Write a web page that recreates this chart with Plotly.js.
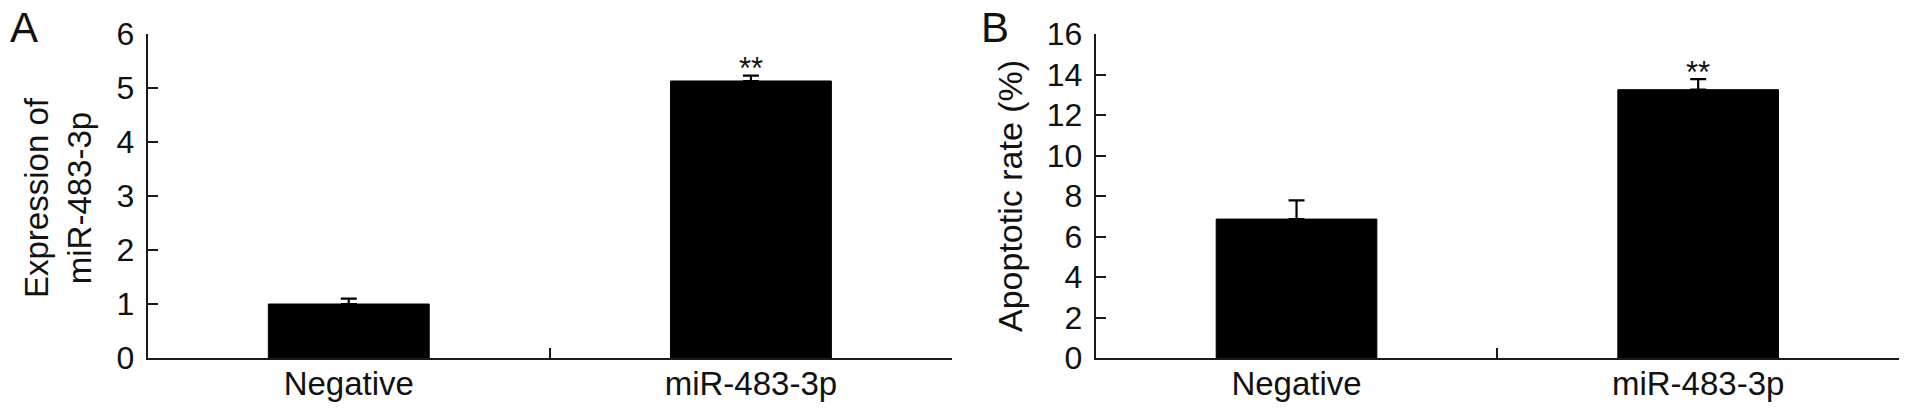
<!DOCTYPE html>
<html>
<head>
<meta charset="utf-8">
<script src="https://cdn.plot.ly/plotly-3.0.1.min.js"></script>
<style>
  html, body { margin: 0; padding: 0; background: #fff; }
  #chart { width: 1913px; height: 412px; }
</style>
</head>
<body>
<div id="chart"></div>
<script>
const groups = ['Negative', 'miR-483-3p'];

// panel A: relative expression
const exprMean = [1.0, 5.13];
const exprErr = [0.10, 0.10];
const exprStars = ['', '**'];

// panel B: apoptotic rate (%)
const apoMean = [6.86, 13.25];
const apoErr = [0.92, 0.52];
const apoStars = ['', '**'];

const FONT = 'Liberation Sans, Arial, Helvetica, sans-serif';
const INK = '#1a1a1a';

function barTrace(means, errs, xa, ya) {
    return {
        type: 'bar',
        x: groups,
        y: means,
        xaxis: xa,
        yaxis: ya,
        width: 0.4,
        marker: { color: '#000', line: { color: '#000', width: 1 } },
        // only the upper whisker shows in the figure
        error_y: {
            type: 'data', array: errs, symmetric: false,
            arrayminus: errs.map(() => 0),
            visible: true, color: '#000', thickness: 2.2, width: 8
        },
        hoverinfo: 'x+y',
        showlegend: false
    };
}

function xAxis(domain, anchor) {
    return {
        domain: domain,
        anchor: anchor,
        type: 'category',
        range: [-0.5, 1.5],
        showline: true,
        linecolor: INK,
        linewidth: 2,
        ticks: 'inside',
        tickson: 'boundaries',
        ticklen: 10,
        tickwidth: 2,
        tickcolor: INK,
        ticklabelstandoff: -5,
        showgrid: false,
        zeroline: false,
        tickfont: { family: FONT, size: 33, color: '#111' },
        fixedrange: true
    };
}

function yAxis(anchor, top, step) {
    return {
        anchor: anchor,
        range: [0, top],
        dtick: step,
        tick0: 0,
        showline: true,
        linecolor: INK,
        linewidth: 2,
        ticks: 'inside',
        ticklen: 10,
        tickwidth: 2,
        tickcolor: INK,
        ticklabelstandoff: 5,
        showgrid: false,
        zeroline: false,
        tickfont: { family: FONT, size: 32, color: '#111' },
        fixedrange: true
    };
}

const data = [
    barTrace(exprMean, exprErr, 'x', 'y'),
    barTrace(apoMean, apoErr, 'x2', 'y2')
];

// significance marks above the error bars
const annotations = [];
groups.forEach((g, i) => {
    if (exprStars[i]) {
        annotations.push({
            xref: 'x', yref: 'y', x: g, y: exprMean[i] + exprErr[i],
            text: exprStars[i], showarrow: false, yanchor: 'middle', yshift: 7,
            font: { family: FONT, size: 31, color: '#111' }
        });
    }
    if (apoStars[i]) {
        annotations.push({
            xref: 'x2', yref: 'y2', x: g, y: apoMean[i] + apoErr[i],
            text: apoStars[i], showarrow: false, yanchor: 'middle', yshift: 7,
            font: { family: FONT, size: 31, color: '#111' }
        });
    }
});

// y titles and panel letters, placed by page pixels
const W = 1913, H = 412;
const M = { l: 0, r: 0, t: 34, b: 54 };
const plotH = H - M.t - M.b;
function pageText(px, py, text, size, angle) {
    return {
        xref: 'paper', yref: 'paper',
        x: px / W, y: (H - M.b - py) / plotH,
        xanchor: 'center', yanchor: 'middle', text: text, showarrow: false,
        textangle: angle || 0,
        font: { family: FONT, size: size, color: '#111' }
    };
}
annotations.push(pageText(58, 198, 'Expression of<br>miR-483-3p', 33, -90));
annotations.push(pageText(1010, 196, 'Apoptotic rate (%)', 34, -90));
annotations.push(pageText(24, 28, 'A', 42));
annotations.push(pageText(995, 28, 'B', 42));

const layout = {
    width: W,
    height: H,
    margin: M,
    paper_bgcolor: '#fff',
    plot_bgcolor: '#fff',
    font: { family: FONT, color: '#111' },
    xaxis: xAxis([147.7 / W, 952 / W], 'y'),
    yaxis: yAxis('x', 6, 1),
    xaxis2: xAxis([1095.7 / W, 1899 / W], 'y2'),
    yaxis2: yAxis('x2', 16, 2),
    annotations: annotations,
    showlegend: false
};

Plotly.newPlot('chart', data, layout, { displayModeBar: false, staticPlot: true });
</script>
</body>
</html>
